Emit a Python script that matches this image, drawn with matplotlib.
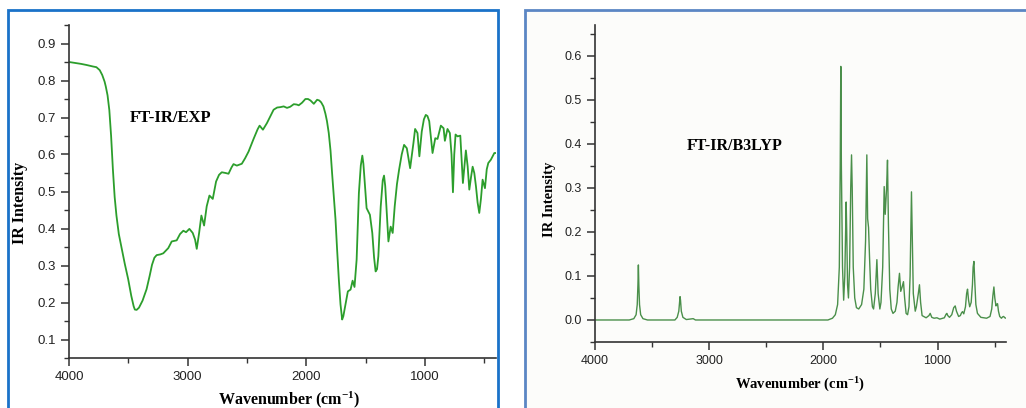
import matplotlib
matplotlib.use('Agg')
import matplotlib.pyplot as plt
from matplotlib.patches import Rectangle
from matplotlib.ticker import MultipleLocator
import numpy as np

plt.rcParams['font.family'] = ['Liberation Sans', 'DejaVu Sans']
plt.rcParams['mathtext.fontset'] = 'custom'
plt.rcParams['mathtext.rm'] = 'Liberation Serif:bold'
plt.rcParams['mathtext.default'] = 'rm'

# Experimental FT-IR spectrum (wavenumber in cm-1, intensity)
exp_wn = [4000, 3900, 3853, 3800, 3769, 3741, 3720, 3700, 3690, 3675,
          3660, 3645, 3630, 3615, 3600, 3580, 3557, 3530, 3501, 3475,
          3455, 3445, 3430, 3410, 3380, 3346, 3320, 3300, 3280, 3261,
          3230, 3205, 3163, 3134, 3092, 3064, 3036, 3013, 2985, 2957,
          2937, 2923, 2903, 2884, 2861, 2839, 2816, 2788, 2760, 2735,
          2712, 2680, 2655, 2630, 2613, 2585, 2543, 2515, 2486, 2444,
          2410, 2393, 2365, 2331, 2300, 2275, 2245, 2218, 2190, 2162,
          2135, 2105, 2080, 2063, 2035, 2007, 1985, 1964, 1936, 1908,
          1890, 1874, 1855, 1838, 1825, 1810, 1795, 1782, 1768, 1753,
          1740, 1725, 1711, 1697, 1687, 1677, 1649, 1626, 1609, 1593,
          1575, 1565, 1556, 1540, 1527, 1518, 1508, 1491, 1463, 1443,
          1428, 1415, 1403, 1392, 1372, 1355, 1344, 1334, 1324, 1307,
          1288, 1271, 1254, 1235, 1217, 1195, 1175, 1152, 1124, 1096,
          1082, 1062, 1046, 1026, 1008, 992, 978, 963, 935, 912,
          893, 865, 842, 831, 809, 789, 775, 763, 752, 741,
          724, 701, 679, 654, 639, 625, 610, 597, 583, 569,
          555, 541, 527, 513, 493, 478, 465, 443, 414, 400]
exp_ir = [0.850, 0.845, 0.842, 0.838, 0.836, 0.828, 0.815, 0.797, 0.784, 0.760,
          0.720, 0.650, 0.560, 0.485, 0.435, 0.385, 0.348, 0.305, 0.263, 0.218,
          0.190, 0.181, 0.180, 0.186, 0.205, 0.236, 0.272, 0.302, 0.321, 0.328,
          0.330, 0.333, 0.347, 0.365, 0.368, 0.385, 0.394, 0.390, 0.399, 0.388,
          0.370, 0.345, 0.388, 0.435, 0.408, 0.460, 0.489, 0.480, 0.527, 0.545,
          0.552, 0.550, 0.548, 0.565, 0.574, 0.570, 0.575, 0.590, 0.608, 0.642,
          0.668, 0.678, 0.667, 0.685, 0.705, 0.721, 0.727, 0.728, 0.730, 0.726,
          0.729, 0.736, 0.735, 0.733, 0.740, 0.750, 0.750, 0.746, 0.737, 0.748,
          0.746, 0.741, 0.730, 0.710, 0.690, 0.658, 0.610, 0.550, 0.490, 0.424,
          0.345, 0.262, 0.195, 0.154, 0.163, 0.181, 0.230, 0.235, 0.259, 0.242,
          0.316, 0.410, 0.496, 0.570, 0.597, 0.575, 0.532, 0.455, 0.437, 0.388,
          0.322, 0.284, 0.290, 0.325, 0.459, 0.530, 0.543, 0.515, 0.460, 0.365,
          0.405, 0.388, 0.460, 0.520, 0.559, 0.600, 0.626, 0.617, 0.563, 0.631,
          0.669, 0.658, 0.595, 0.662, 0.695, 0.707, 0.704, 0.690, 0.604, 0.644,
          0.642, 0.678, 0.671, 0.637, 0.669, 0.658, 0.600, 0.498, 0.600, 0.654,
          0.649, 0.651, 0.523, 0.611, 0.568, 0.505, 0.540, 0.567, 0.550, 0.514,
          0.470, 0.442, 0.480, 0.532, 0.509, 0.560, 0.577, 0.586, 0.604, 0.604]

# Calculated B3LYP spectrum
calc_wn = [4000, 3700, 3660, 3640, 3630, 3624, 3620, 3616, 3610, 3600,
           3580, 3540, 3300, 3280, 3266, 3258, 3255, 3251, 3244, 3230,
           3200, 3140, 3120, 1960, 1920, 1895, 1875, 1860, 1852, 1847,
           1842, 1832, 1822, 1812, 1804, 1800, 1795, 1788, 1780, 1770,
           1760, 1753, 1747, 1738, 1725, 1710, 1690, 1665, 1645, 1630,
           1619, 1612, 1604, 1595, 1585, 1570, 1560, 1545, 1531, 1520,
           1505, 1495, 1480, 1467, 1458, 1446, 1438, 1430, 1418, 1405,
           1390, 1370, 1355, 1345, 1333, 1322, 1310, 1298, 1288, 1275,
           1262, 1250, 1240, 1233, 1228, 1222, 1212, 1195, 1185, 1168,
           1158, 1148, 1135, 1100, 1075, 1064, 1050, 1030, 1005, 980,
           940, 925, 918, 910, 895, 875, 858, 845, 834, 815,
           800, 790, 781, 770, 755, 745, 737, 728, 718, 705,
           694, 688, 681, 674, 664, 650, 620, 570, 540, 525,
           515, 506, 498, 488, 480, 474, 466, 455, 440, 430,
           421, 410, 400]
calc_ir = [0.0, 0.0, 0.003, 0.012, 0.035, 0.080, 0.125, 0.080, 0.035, 0.012,
           0.003, 0.0, 0.0, 0.006, 0.020, 0.045, 0.053, 0.045, 0.020, 0.006,
           0.001, 0.003, 0.0, 0.0, 0.004, 0.012, 0.035, 0.120, 0.350, 0.576,
           0.350, 0.120, 0.045, 0.100, 0.220, 0.268, 0.200, 0.080, 0.050, 0.120,
           0.300, 0.375, 0.300, 0.120, 0.050, 0.028, 0.025, 0.035, 0.070, 0.180,
           0.375, 0.230, 0.210, 0.140, 0.070, 0.030, 0.025, 0.060, 0.137, 0.060,
           0.025, 0.040, 0.120, 0.303, 0.240, 0.300, 0.363, 0.220, 0.070, 0.025,
           0.015, 0.020, 0.040, 0.075, 0.106, 0.065, 0.075, 0.087, 0.050, 0.015,
           0.012, 0.030, 0.100, 0.220, 0.291, 0.200, 0.060, 0.020, 0.030, 0.060,
           0.080, 0.040, 0.010, 0.005, 0.010, 0.015, 0.006, 0.004, 0.005, 0.002,
           0.005, 0.013, 0.015, 0.010, 0.006, 0.012, 0.028, 0.032, 0.020, 0.008,
           0.010, 0.016, 0.019, 0.014, 0.030, 0.060, 0.070, 0.045, 0.030, 0.040,
           0.080, 0.120, 0.133, 0.090, 0.035, 0.015, 0.006, 0.004, 0.008, 0.025,
           0.055, 0.075, 0.050, 0.032, 0.036, 0.037, 0.020, 0.008, 0.004, 0.007,
           0.008, 0.005, 0.004]

W, H = 1026, 408
fig = plt.figure(figsize=(W / 100, H / 100), dpi=100)


def px_box(x0, y0, x1, y1):
    # pixel box (top-left origin) -> figure fraction [left, bottom, width, height]
    return [x0 / W, 1 - y1 / H, (x1 - x0) / W, (y1 - y0) / H]


# blue frames around each panel, kept behind the axes
fig.patches.append(Rectangle((525 / W, -0.02), 0.5, 1 - 10 / H + 0.02,
                             transform=fig.transFigure, facecolor='#fcfcfa',
                             edgecolor='#5b86c4', linewidth=2, zorder=-5))
fig.patches.append(Rectangle((8 / W, -0.02), 490 / W, 1 - 10 / H + 0.02,
                             transform=fig.transFigure, facecolor='white',
                             edgecolor='#1a72c9', linewidth=2, zorder=-5))

serif_bold = dict(family='Liberation Serif', weight='bold')


def style_axes(ax, label_size, tick_size):
    for side in ('top', 'right'):
        ax.spines[side].set_visible(False)
    for side in ('left', 'bottom'):
        ax.spines[side].set_color('#333333')
        ax.spines[side].set_linewidth(1.2)
    ax.set_facecolor('none')
    ax.tick_params(which='major', direction='out', length=6, width=1.1,
                   color='#333333', labelsize=tick_size, labelcolor='#222222')
    ax.tick_params(which='minor', direction='out', length=3.5, width=1.0,
                   color='#333333')
    ax.xaxis.set_major_locator(MultipleLocator(1000))
    ax.xaxis.set_minor_locator(MultipleLocator(500))
    ax.set_xlabel(r'Wavenumber (cm$^{-1}$)', fontsize=label_size, **serif_bold)
    ax.set_ylabel('IR Intensity', fontsize=label_size, **serif_bold)


# left: experimental
ax1 = fig.add_axes(px_box(69, 25, 496, 358))
ax1.plot(exp_wn, exp_ir, color='#2c9e2c', linewidth=1.3)
ax1.set_xlim(4000, 400)
ax1.set_ylim(0.05, 0.95)
ax1.yaxis.set_major_locator(MultipleLocator(0.1))
ax1.yaxis.set_minor_locator(MultipleLocator(0.05))
style_axes(ax1, 11.5, 9.5)
ax1.xaxis.set_label_coords(0.515, -0.094)
ax1.yaxis.set_label_coords(-0.096, 0.465)
ax1.text(3485, 0.70, 'FT-IR/EXP', fontsize=12, va='center', ha='left',
         **serif_bold)

# right: calculated
ax2 = fig.add_axes(px_box(595, 25, 1006, 342))
ax2.plot(calc_wn, calc_ir, color='#4a8f4a', linewidth=1.0)
ax2.set_xlim(4000, 400)
ax2.set_ylim(-0.05, 0.67)
ax2.yaxis.set_major_locator(MultipleLocator(0.1))
ax2.yaxis.set_minor_locator(MultipleLocator(0.05))
style_axes(ax2, 10.5, 9)
ax2.xaxis.set_label_coords(0.50, -0.108)
ax2.yaxis.set_label_coords(-0.095, 0.451)
ax2.text(3197, 0.395, 'FT-IR/B3LYP', fontsize=11.5, va='center', ha='left',
         **serif_bold)

fig.savefig('out.png', dpi=100)
